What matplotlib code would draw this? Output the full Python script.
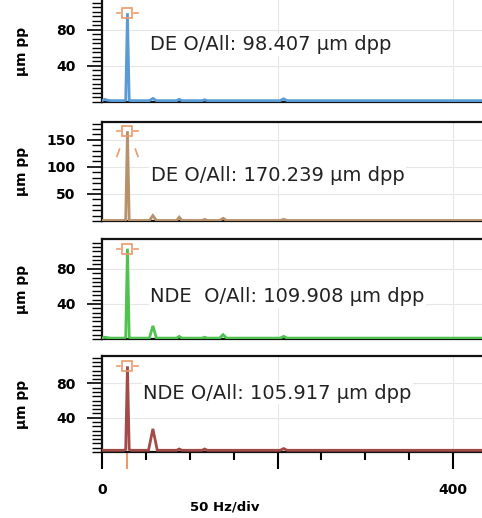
import numpy as np
import matplotlib.pyplot as plt
from matplotlib.ticker import MultipleLocator, FixedLocator

# spectrum breakpoints (Hz, um pp)
de1_freq = [0, 3, 6, 10, 25, 27, 29, 31, 33, 54, 58, 62, 85, 88, 91, 114, 117, 120, 203, 207, 211, 440]
de1_amp = [1.5, 3, 2, 1.5, 1.5, 2, 98.4, 2, 1.5, 1.5, 4, 1.5, 1.5, 3, 1.5, 1.5, 2.5, 1.5, 1.5, 3.5, 1.5, 1.5]

de2_freq = [0, 25, 27, 29, 31, 33, 54, 58, 62, 85, 88, 91, 114, 117, 120, 134, 138, 142, 203, 207, 211, 440]
de2_amp = [1, 1, 2, 166, 2, 1, 1, 10, 1, 1, 7, 1, 1, 3, 1, 1, 5, 1, 1, 3, 1, 1]

nde1_freq = [0, 3, 6, 10, 25, 27, 29, 31, 33, 54, 58, 62, 85, 88, 91, 114, 117, 120, 134, 138, 142, 203, 207, 211, 440]
nde1_amp = [1, 2, 1.5, 1, 1, 2, 103, 2, 1, 1, 15, 1, 1, 3, 1, 1, 2, 1, 1, 5, 1, 1, 3, 1, 1]

nde2_freq = [0, 25, 27, 29, 31, 33, 53, 58, 63, 85, 88, 91, 114, 117, 120, 203, 207, 211, 440]
nde2_amp = [2, 2, 3, 100, 3, 2, 2, 27, 2, 2, 3.5, 2, 2, 3.5, 2, 2, 4, 2, 2]

labels = ["DE O/All: 98.407 \u00b5m dpp", "DE O/All: 170.239 \u00b5m dpp",
          "NDE  O/All: 109.908 \u00b5m dpp", "NDE O/All: 105.917 \u00b5m dpp"]
colors = ["#5b9bd5", "#b8916b", "#4fc24f", "#a24b48"]
ylims = [113, 183, 114, 112]
majors = [40, 50, 40, 40]
minors = [5, 10, 5, 5]
# panel positions in pixels from top (top, bottom)
rows = [(0, 102), (122, 221), (239, 339), (356, 452)]
text_pos = [(0.126, 0.56), (0.128, 0.46), (0.126, 0.42), (0.108, 0.61)]

series = [(de1_freq, de1_amp), (de2_freq, de2_amp), (nde1_freq, nde1_amp), (nde2_freq, nde2_amp)]

W, H = 482, 518
fig = plt.figure(figsize=(W / 100, H / 100), dpi=100)
orange = "#eb9a6a"
xmax = 400 * (W - 102) / 351.0

for i, ((fr, am), col) in enumerate(zip(series, colors)):
    top, bot = rows[i]
    ax = fig.add_axes([102 / W, 1 - bot / H, 1 - 102 / W, (bot - top) / H])
    ax.set_xlim(0, xmax)
    ax.set_ylim(0, ylims[i])
    ax.plot(fr, am, color=col, lw=2, solid_joinstyle="miter", zorder=3)

    # orange peak marker
    k = int(np.argmax(am))
    pf, pa = fr[k], min(am[k], ylims[i] * 0.93)
    ax.plot([pf], [pa], marker="s", ms=7, mfc="none", mec=orange, mew=1.2, zorder=4, clip_on=False)
    ax.plot([pf - 12, pf - 8], [pa, pa], color=orange, lw=1.2, zorder=4)
    ax.plot([pf + 8, pf + 12], [pa, pa], color=orange, lw=1.2, zorder=4)
    if i == 1:
        ax.plot([pf - 12, pf - 9], [pa * 0.72, pa * 0.8], color=orange, lw=1.2, zorder=4)
        ax.plot([pf + 9, pf + 12], [pa * 0.8, pa * 0.72], color=orange, lw=1.2, zorder=4)

    ax.text(text_pos[i][0], text_pos[i][1], labels[i], transform=ax.transAxes,
            fontsize=14, va="center", ha="left", color="#222222",
            bbox=dict(facecolor="white", edgecolor="none", pad=1), zorder=5)

    ax.yaxis.set_major_locator(MultipleLocator(majors[i]))
    ax.yaxis.set_minor_locator(MultipleLocator(minors[i]))
    ax.set_yticks([t for t in ax.get_yticks() if 0 < t < ylims[i]])
    ax.tick_params(axis="y", which="major", length=11, width=1.2, labelsize=10, pad=8)
    ax.tick_params(axis="y", which="minor", length=7, width=1)
    for lab in ax.get_yticklabels():
        lab.set_fontweight("bold")
    ax.set_ylabel("\u00b5m pp", fontsize=10, fontweight="bold")
    ax.yaxis.set_label_coords(-0.193, 0.5)

    ax.grid(True, axis="y", which="major", color="#e6e6e6", lw=0.8)
    for gx in [200, 400]:
        ax.axvline(gx, color="#e6e6e6", lw=0.8, zorder=0)

    ax.spines["right"].set_visible(False)
    for s in ["left", "bottom", "top"]:
        ax.spines[s].set_linewidth(1.6)
        ax.spines[s].set_color("#111111")
    if i == 0:
        ax.spines["top"].set_visible(False)

    if i < 3:
        ax.set_xticks([])
    else:
        ax.xaxis.set_major_locator(FixedLocator([0, 200, 400]))
        ax.xaxis.set_minor_locator(MultipleLocator(50))
        ax.set_xticklabels(["0", "", "400"])
        ax.tick_params(axis="x", which="major", length=12, width=1.5, labelsize=10, pad=10)
        ax.tick_params(axis="x", which="minor", length=6, width=1.5)
        for lab in ax.get_xticklabels():
            lab.set_fontweight("bold")
        ax.set_xlabel("50 Hz/div", fontsize=9.5, fontweight="bold")
        ax.xaxis.set_label_coords((225 - 102) / (W - 102), -0.5)
        ax.plot([pf, pf], [0, -0.17], transform=ax.get_xaxis_transform(),
                color=orange, lw=1.5, clip_on=False, zorder=1)

fig.savefig("out.png", dpi=100)
